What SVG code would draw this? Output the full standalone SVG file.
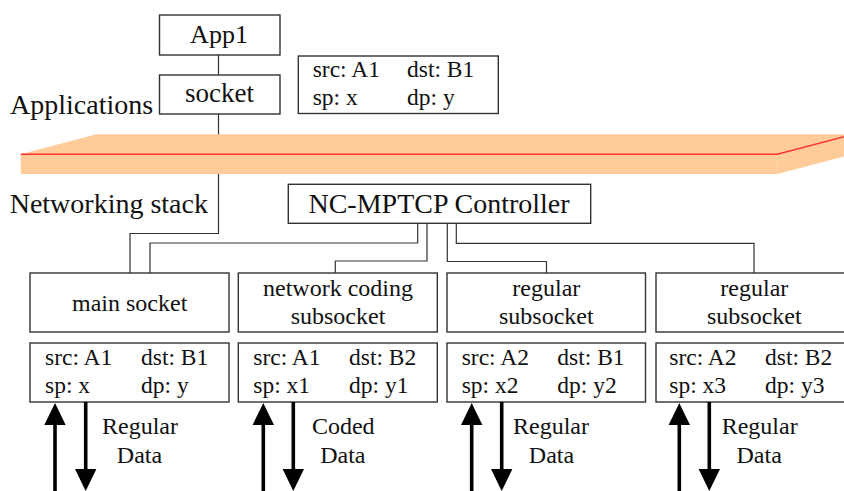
<svg xmlns="http://www.w3.org/2000/svg" width="844" height="491" viewBox="0 0 844 491" font-family="'Liberation Serif', 'DejaVu Serif', serif">
<style>
.box{fill:#fff;stroke:#333;stroke-width:1.4}
.ln{fill:none;stroke:#333;stroke-width:1.2}
text{font-family:'Liberation Serif','DejaVu Serif',serif;fill:#111}
.c{text-anchor:middle}
.f24{font-size:24px}
.f23{font-size:23.5px}
.f28{font-size:28px}
.shaft{stroke:#000;stroke-width:3.6}
.head{fill:#000}
</style>
<rect width="844" height="491" fill="#fff"/>
<g id="connectors">
<line class="ln" x1="218.5" y1="55" x2="218.5" y2="75"/>
<polyline class="ln" points="218.5,114 218.5,233.5 130,233.5 130,273"/>
<polyline class="ln" points="417.7,223.5 417.7,243 150,243 150,273"/>
<polyline class="ln" points="427,223.5 427,261 335.3,261 335.3,273"/>
<polyline class="ln" points="447.3,223.5 447.3,261.5 546.5,261.5 546.5,273"/>
<polyline class="ln" points="456.3,223.5 456.3,243.3 754,243.3 754,273"/>
</g>
<g id="slab">
<polygon points="20.7,154.3 96.7,134.3 853,134.3 777.3,154.3" fill="#FFCC99"/>
<rect x="20.7" y="154.3" width="756.6" height="19.7" fill="#FFCC99"/>
<polygon points="777.3,154.3 853,134.3 853,154 777.3,174" fill="#FFCC99"/>
<polyline points="20.7,154.3 777.3,154.3 853,134.3" fill="none" stroke="#FF3333" stroke-width="1.5"/>
</g>
<g id="app1">
<rect class="box" x="159.5" y="15" width="120.5" height="40"/>
<text class="c" x="219" y="43.3" font-size="26">App1</text>
</g>
<g id="socket">
<rect class="box" x="159.5" y="75" width="120.5" height="39"/>
<text class="c" x="219.5" y="101.5" font-size="27">socket</text>
</g>
<g id="socket-info">
<rect class="box" x="298.3" y="56" width="200" height="57.5"/>
<text class="f23" x="312.7" y="77">src: A1</text>
<text class="f23" x="407" y="77">dst: B1</text>
<text class="f23" x="312.7" y="105">sp: x</text>
<text class="f23" x="407" y="105">dp: y</text>
</g>
<text class="f28" x="10" y="114">Applications</text>
<text class="f28" x="9.7" y="213">Networking stack</text>
<g id="controller">
<rect class="box" x="288.3" y="184.3" width="302.4" height="39"/>
<text class="c f28" x="439" y="213">NC-MPTCP Controller</text>
</g>
<g id="main-socket">
<rect class="box" x="30" y="273" width="199" height="59"/>
<text class="c f24" x="129.7" y="310.7">main socket</text>
</g>
<g id="nc-subsocket">
<rect class="box" x="238.3" y="273" width="199" height="59"/>
<text class="c f24" x="338" y="295.7">network coding</text>
<text class="c f24" x="338" y="324">subsocket</text>
</g>
<g id="reg-subsocket-1">
<rect class="box" x="447" y="273" width="198.5" height="59"/>
<text class="c f24" x="546.3" y="295.7">regular</text>
<text class="c f24" x="546.3" y="324">subsocket</text>
</g>
<g id="reg-subsocket-2">
<rect class="box" x="656" y="273" width="199" height="59"/>
<text class="c f24" x="754.3" y="295.7">regular</text>
<text class="c f24" x="754.3" y="324">subsocket</text>
</g>
<g id="info-main">
<rect class="box" x="30" y="343" width="199" height="59"/>
<text class="f23" x="45" y="364.7">src: A1</text>
<text class="f23" x="141" y="364.7">dst: B1</text>
<text class="f23" x="45" y="392.5">sp: x</text>
<text class="f23" x="141" y="392.5">dp: y</text>
</g>
<g id="info-nc">
<rect class="box" x="238.3" y="343" width="199" height="59"/>
<text class="f23" x="253.3" y="364.7">src: A1</text>
<text class="f23" x="349" y="364.7">dst: B2</text>
<text class="f23" x="253.3" y="392.5">sp: x1</text>
<text class="f23" x="349" y="392.5">dp: y1</text>
</g>
<g id="info-reg-1">
<rect class="box" x="447" y="343" width="198.5" height="59"/>
<text class="f23" x="461.7" y="364.7">src: A2</text>
<text class="f23" x="557.3" y="364.7">dst: B1</text>
<text class="f23" x="461.7" y="392.5">sp: x2</text>
<text class="f23" x="557.3" y="392.5">dp: y2</text>
</g>
<g id="info-reg-2">
<rect class="box" x="656" y="343" width="199" height="59"/>
<text class="f23" x="669.3" y="364.7">src: A2</text>
<text class="f23" x="765" y="364.7">dst: B2</text>
<text class="f23" x="669.3" y="392.5">sp: x3</text>
<text class="f23" x="765" y="392.5">dp: y3</text>
</g>
<g id="data-arrows">
<line class="shaft" x1="55" y1="424" x2="55" y2="491"/>
<polygon class="head" points="55,403 44.3,425 65.7,425"/>
<line class="shaft" x1="85.7" y1="402" x2="85.7" y2="470"/>
<polygon class="head" points="85.7,491 75,469 96.4,469"/>
<line class="shaft" x1="263.3" y1="424" x2="263.3" y2="491"/>
<polygon class="head" points="263.3,403 252.6,425 274,425"/>
<line class="shaft" x1="293.3" y1="402" x2="293.3" y2="470"/>
<polygon class="head" points="293.3,491 282.6,469 304,469"/>
<line class="shaft" x1="471.7" y1="424" x2="471.7" y2="491"/>
<polygon class="head" points="471.7,403 461,425 482.4,425"/>
<line class="shaft" x1="501.7" y1="402" x2="501.7" y2="470"/>
<polygon class="head" points="501.7,491 491,469 512.4,469"/>
<line class="shaft" x1="679.3" y1="424" x2="679.3" y2="491"/>
<polygon class="head" points="679.3,403 668.6,425 690,425"/>
<line class="shaft" x1="709.3" y1="402" x2="709.3" y2="470"/>
<polygon class="head" points="709.3,491 698.6,469 720,469"/>
</g>
<g id="data-labels">
<text class="c f24" x="140" y="434">Regular</text>
<text class="c f24" x="139.5" y="463.3">Data</text>
<text class="c f24" x="343.3" y="434">Coded</text>
<text class="c f24" x="342.8" y="463.3">Data</text>
<text class="c f24" x="551" y="434">Regular</text>
<text class="c f24" x="551.5" y="463.3">Data</text>
<text class="c f24" x="759.7" y="434">Regular</text>
<text class="c f24" x="759.2" y="463.3">Data</text>
</g>
</svg>
